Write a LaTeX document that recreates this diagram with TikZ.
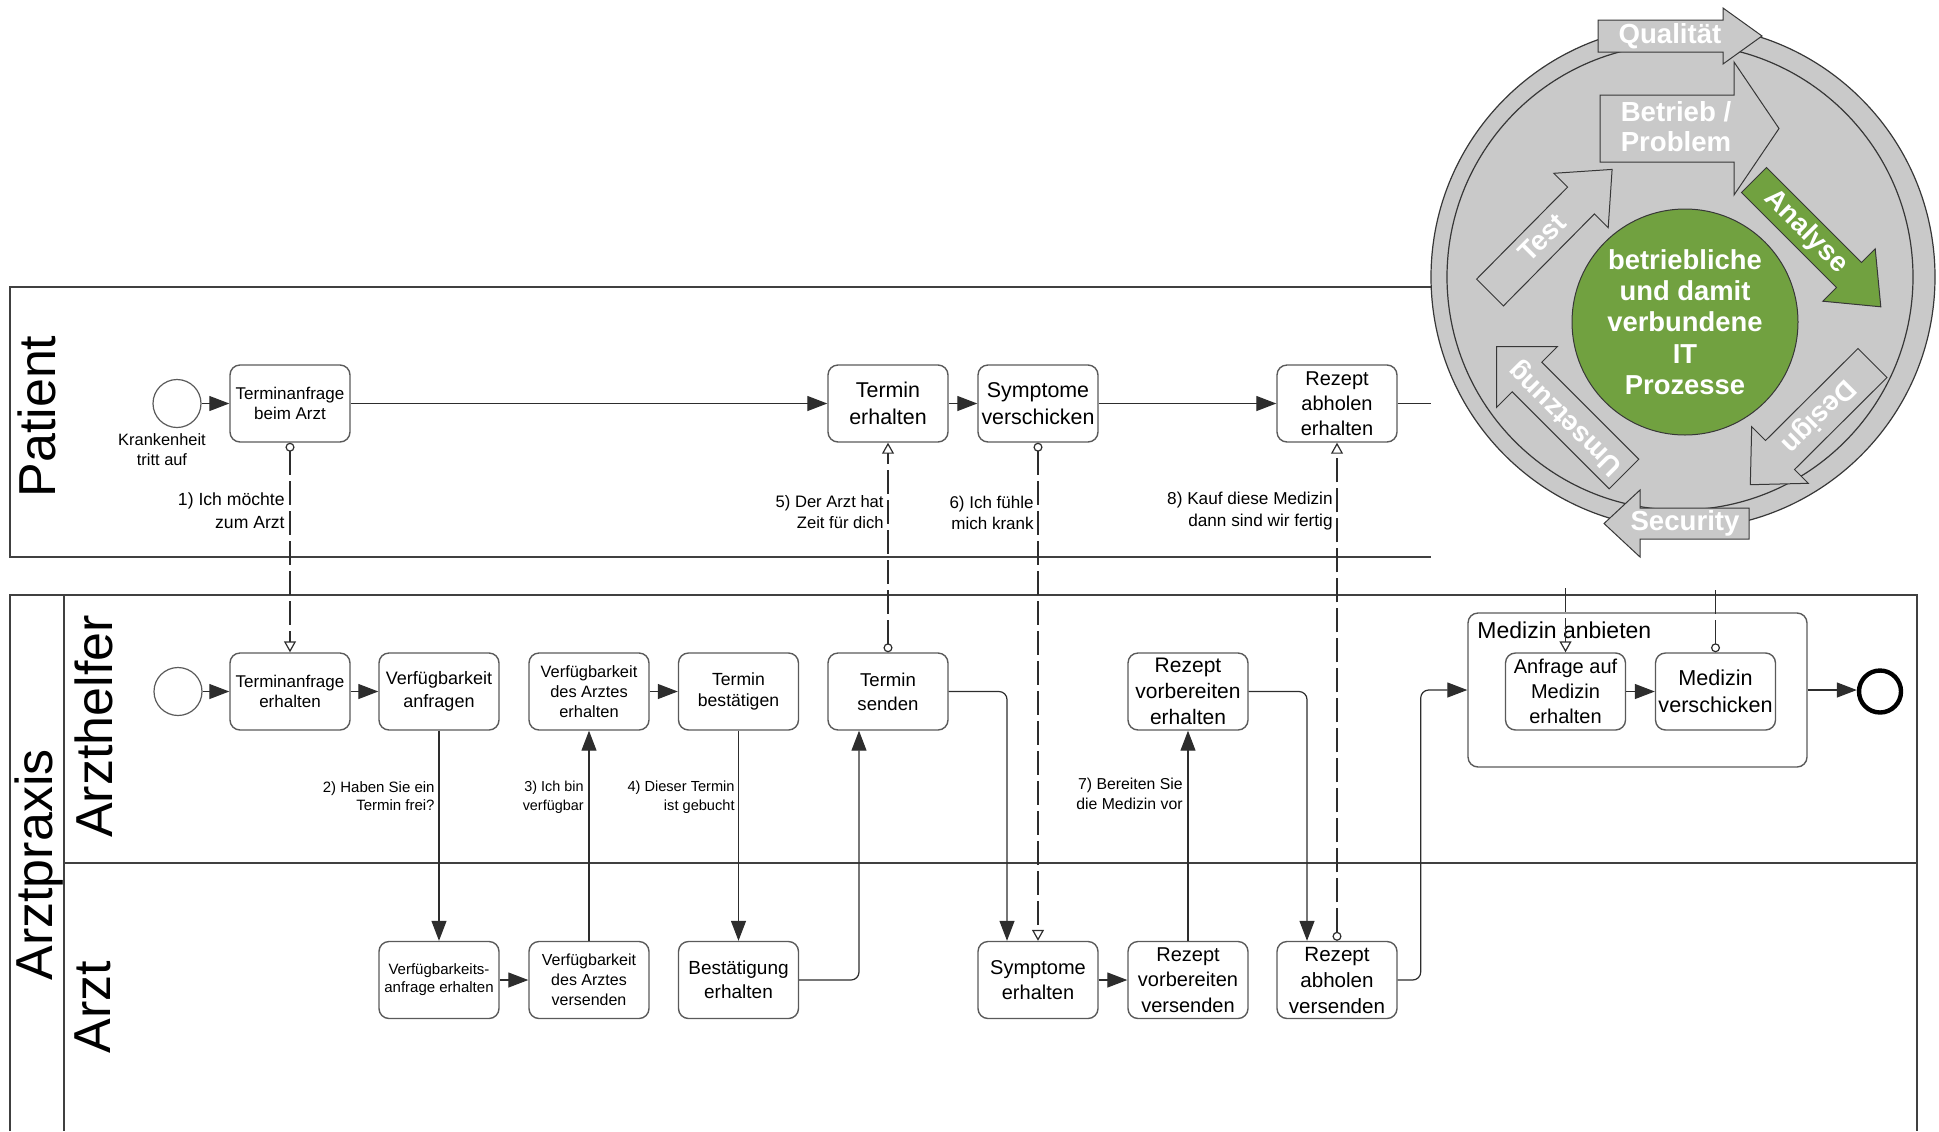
\documentclass[tikz,border=0pt]{standalone}
\usepackage{fontspec}
\setmainfont{Liberation Sans}
\usetikzlibrary{arrows.meta}

\definecolor{taskline}{RGB}{90,90,90}
\definecolor{poolline}{RGB}{64,64,64}
\definecolor{flowline}{RGB}{45,45,45}
\definecolor{ringgray}{RGB}{201,201,201}
\definecolor{ringline}{RGB}{55,55,55}
\definecolor{leafgreen}{RGB}{113,161,64}
\newcommand{\setfs}[2]{\fontsize{#1}{#2}\selectfont}

\tikzset{
  task/.style={draw=taskline, line width=0.7pt, rounded corners=5pt,
    minimum width=60pt, minimum height=38.5pt, align=center, inner sep=1pt},
  startev/.style={circle, draw=taskline, line width=0.6pt, minimum size=24pt, inner sep=0pt},
  endev/.style={circle, draw=black, line width=2.2pt, minimum size=21pt, inner sep=0pt},
  subproc/.style={draw=taskline, line width=0.7pt, rounded corners=5pt,
    minimum width=169.5pt, minimum height=77pt, inner sep=0pt},
  seqflow/.style={draw=flowline, line width=0.6pt, rounded corners=4pt,
    -{Triangle[length=10pt,width=7.5pt]}},
  plainflow/.style={draw=flowline, line width=0.6pt},
  msgflow/.style={draw=flowline, line width=0.6pt, dash pattern=on 12pt off 3pt},
  msgboth/.style={msgflow,
    {Circle[open,length=4.5pt,width=4.5pt]}-{Triangle[open,length=5.5pt,width=6pt]}},
  msgin/.style={msgflow, -{Triangle[open,length=5.5pt,width=6pt]}},
  msgout/.style={msgflow, {Circle[open,length=4.5pt,width=4.5pt]}-},
  msglbl/.style={anchor=east, align=right, inner sep=0pt},
  pool/.style={draw=poolline, line width=0.8pt},
  lanetitle/.style={rotate=90, anchor=base, inner sep=0pt, font=\setfs{26}{30}},
  blockarrow/.style={fill=ringgray, draw=ringline, line width=0.5pt},
  arrowtxt/.style={text=white, font=\bfseries\setfs{13.8}{15}, inner sep=0pt, align=center},
}

\begin{document}
\begin{tikzpicture}[x=0.5pt,y=-0.5pt]
\useasboundingbox (0,0) rectangle (1939,1131);

% ---------- pools and lanes ----------
\draw[pool] (1431,287) -- (10,287) -- (10,557) -- (1431,557);
\draw[pool] (10,1131) -- (10,595) -- (1917,595) -- (1917,1131);
\draw[pool] (64,595) -- (64,1131);
\draw[pool] (64,863) -- (1917,863);

\node[lanetitle] (lpat) at (55,416.5) {Patient};
\node[lanetitle] (lpra) at (53,865) {Arztpraxis};
\node[lanetitle] (lhel) at (112,726.5) {Arzthelfer};
\node[lanetitle] (larz) at (110,1007) {Arzt};

% ---------- Patient ----------
\node[startev] (ps) at (177,403.5) {};
\node[inner sep=0pt, align=center, font=\setfs{8.2}{10}] (psl) at (162,450) {Krankenheit\\tritt auf};
\node[task, font=\setfs{8.5}{10}] (t1) at (290,403.5) {Terminanfrage\\beim Arzt};
\node[task, font=\setfs{10.7}{13.5}] (ter) at (888,403.5) {Termin\\erhalten};
\node[task, font=\setfs{10.7}{13.5}] (sv) at (1038,403.5) {Symptome\\verschicken};
\node[task, font=\setfs{10}{12.5}] (rae) at (1337,403.5) {Rezept\\abholen\\erhalten};
\coordinate (pout) at (1431,403.5);

% ---------- Arzthelfer ----------
\node[startev] (hs) at (178,691.5) {};
\node[task, font=\setfs{8.5}{10}] (tae) at (290,691.5) {Terminanfrage\\erhalten};
\node[task, font=\setfs{9}{11.5}] (va) at (439,691.5) {Verfügbarkeit\\anfragen};
\node[task, font=\setfs{8.2}{10}] (vde) at (589,691.5) {Verfügbarkeit\\des Arztes\\erhalten};
\node[task, font=\setfs{8.8}{10.5}] (tb) at (738.5,691.5) {Termin\\bestätigen};
\node[task, font=\setfs{9.3}{12}] (ts) at (888,691.5) {Termin\\senden};
\node[task, font=\setfs{10.5}{13}] (rve) at (1188,691.5) {Rezept\\vorbereiten\\erhalten};
\node[subproc] (ma) at (1637.5,690) {};
\node[anchor=west, inner sep=0pt, font=\setfs{11.5}{13}] (mat) at (1477,630) {Medizin anbieten};
\node[task, font=\setfs{10}{12.5}] (ama) at (1565.5,691.5) {Anfrage auf\\Medizin\\erhalten};
\node[task, font=\setfs{10.8}{13.5}] (mv) at (1715.5,691.5) {Medizin\\verschicken};
\node[endev] (endn) at (1880,691.5) {};
\coordinate (qa) at (1565.5,588);
\coordinate (qb) at (1715.5,588);

% ---------- Arzt ----------
\node[task, font=\setfs{7.5}{9}] (vae) at (439,980) {Verfügbarkeits-\\anfrage erhalten};
\node[task, font=\setfs{8}{10}] (vav) at (589,980) {Verfügbarkeit\\des Arztes\\versenden};
\node[task, font=\setfs{9.5}{12}] (be) at (738.5,980) {Bestätigung\\erhalten};
\node[task, font=\setfs{10}{12.5}] (se) at (1038,980) {Symptome\\erhalten};
\node[task, font=\setfs{10}{12.75}] (rvv) at (1188,980) {Rezept\\vorbereiten\\versenden};
\node[task, font=\setfs{10.3}{13}] (rav) at (1337,980) {Rezept\\abholen\\versenden};

% ---------- sequence flows ----------
\draw[seqflow] (ps.east) -- (t1.west);
\draw[seqflow] (t1.east) -- (ter.west);
\draw[seqflow] (ter.east) -- (sv.west);
\draw[seqflow] (sv.east) -- (rae.west);
\draw[plainflow] (rae.east) -- (pout);

\draw[seqflow] (hs.east) -- (tae.west);
\draw[seqflow] (tae.east) -- (va.west);
\draw[seqflow] (va.south) -- (vae.north);
\draw[seqflow] (vae.east) -- (vav.west);
\draw[seqflow] (vav.north) -- (vde.south);
\draw[seqflow] (vde.east) -- (tb.west);
\draw[seqflow] (tb.south) -- (be.north);
\draw[seqflow] (be.east) -| ([xshift=-14.5pt]ts.south);
\draw[seqflow] (ts.east) -| ([xshift=-15.5pt]se.north);
\draw[seqflow] (se.east) -- (rvv.west);
\draw[seqflow] (rvv.north) -- (rve.south);
\draw[seqflow] (rve.east) -| ([xshift=-15pt]rav.north);
\draw[seqflow] (rav.east) -- ++(11.5pt,0) |- (ma.west);
\draw[seqflow] (ama.east) -- (mv.west);
\draw[seqflow] (ma.east) -- (ma.east -| endn.west);

% ---------- message flows ----------
\draw[msgboth] (t1.south) -- (tae.north);
\draw[msgboth] (ts.north) -- (ter.south);
\draw[msgboth] (sv.south) -- (se.north);
\draw[msgboth] (rav.north) -- (rae.south);
\draw[msgin] (qa) -- (ama.north);
\draw[msgout] (mv.north) -- (qb);

% ---------- message labels ----------
\node[msglbl, font=\setfs{8.8}{11.5}] (m1) at (285,510.5) {1) Ich möchte\\zum Arzt};
\node[msglbl, font=\setfs{7.5}{9.3}] (m2) at (435,796) {2) Haben Sie ein\\Termin frei?};
\node[msglbl, font=\setfs{7.2}{9.3}] (m3) at (584,797) {3) Ich bin\\verfügbar};
\node[msglbl, font=\setfs{7.3}{9.3}] (m4) at (735,797) {4) Dieser Termin\\ist gebucht};
\node[msglbl, font=\setfs{8.3}{10.5}] (m5) at (884,512.5) {5) Der Arzt hat\\Zeit für dich};
\node[msglbl, font=\setfs{8.5}{10.5}] (m6) at (1034,512.5) {6) Ich fühle\\mich krank};
\node[msglbl, font=\setfs{7.9}{10}] (m7) at (1183,794) {7) Bereiten Sie\\die Medizin vor};
\node[msglbl, font=\setfs{8.6}{11}] (m8) at (1333,511) {8) Kauf diese Medizin\\dann sind wir fertig};

% ---------- process cycle ----------
\fill[ringgray] (1683,277) circle[radius=126pt];
\draw[ringline, line width=0.6pt] (1683,277) circle[radius=126pt];
\draw[ringline, line width=0.6pt] (1680,277) circle[radius=116.5pt];
\draw[ringline, line width=0.5pt, fill=leafgreen] (1685,322) circle[radius=56.5pt];

\draw[blockarrow] (1598,20) -- (1723,20) -- (1723,8) -- (1762,36) -- (1723,64)
  -- (1723,52) -- (1598,52) -- cycle;
\draw[blockarrow] (1600,95) -- (1734,95) -- (1734,62) -- (1779,128.5) -- (1734,195)
  -- (1734,162) -- (1600,162) -- cycle;
\draw[blockarrow] (1476.6,279.1) -- (1567.6,187.1) -- (1553.8,173.3) -- (1612.1,169.4)
  -- (1608.2,227.7) -- (1594.4,213.9) -- (1503.4,305.9) -- cycle;
\draw[blockarrow, fill=leafgreen] (1766.5,167.5) -- (1861.5,262.5) -- (1875.2,248.8)
  -- (1880.8,306.8) -- (1822.8,301.2) -- (1836.5,287.5) -- (1741.5,192.5) -- cycle;
\draw[blockarrow] (1858,348.5) -- (1765.5,440.5) -- (1751.7,426.7) -- (1750.3,484.7)
  -- (1808.3,483.3) -- (1794.5,469.5) -- (1887,377.5) -- cycle;
\draw[blockarrow] (1638.8,459.2) -- (1541.8,362.2) -- (1557.4,346.6) -- (1496.6,346.6)
  -- (1496.6,407.4) -- (1512.2,391.8) -- (1609.2,488.8) -- cycle;
\draw[blockarrow] (1749,508) -- (1640,508) -- (1640,490) -- (1604,523.5) -- (1640,557)
  -- (1640,539) -- (1749,539) -- cycle;

\node[arrowtxt] (cq) at (1670,36) {Qualität};
\node[arrowtxt] (cb) at (1676,127) {Betrieb /\\Problem};
\node[arrowtxt, rotate=45] (ct) at (1542,238) {Test};
\node[arrowtxt, rotate=-45] (ca) at (1806,232) {Analyse};
\node[arrowtxt, rotate=-135] (cd) at (1818,416) {Design};
\node[arrowtxt, rotate=135] (cu) at (1566,418) {Umsetzung};
\node[arrowtxt] (cs) at (1685,523) {Security};
\node[arrowtxt, font=\bfseries\setfs{13.7}{15.6}] (cc) at (1685,322)
  {betriebliche\\und damit\\verbundene\\IT\\Prozesse};
\end{tikzpicture}
\end{document}
